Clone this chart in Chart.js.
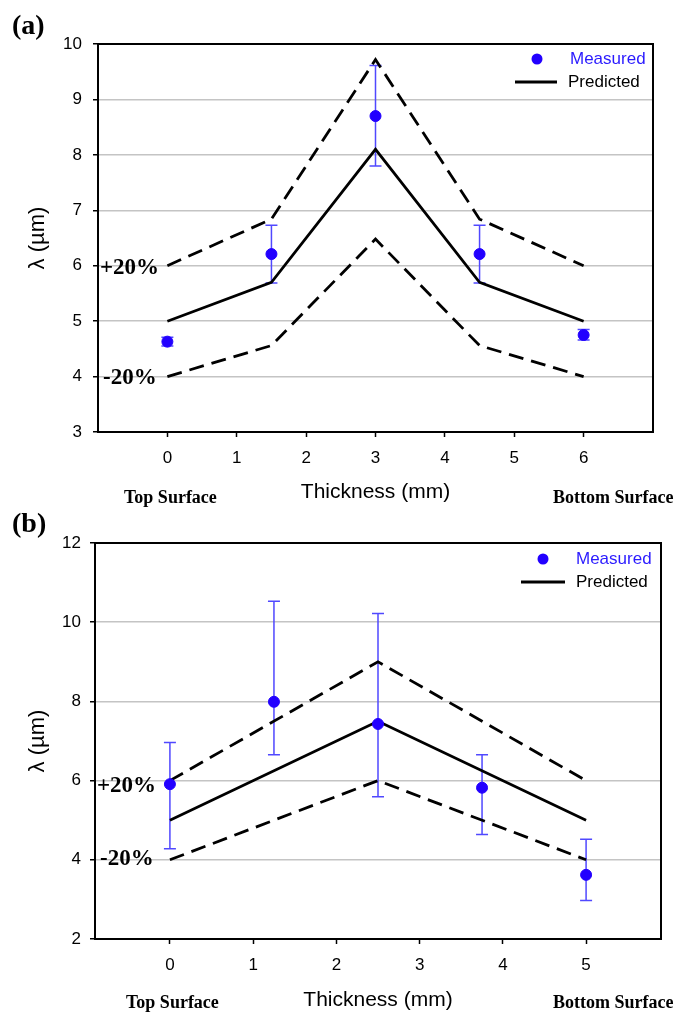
<!DOCTYPE html>
<html>
<head>
<meta charset="utf-8">
<script src="https://cdn.jsdelivr.net/npm/chart.js@4.4.1/dist/chart.umd.min.js"></script>
<style>
  html, body { margin: 0; padding: 0; background: #fff; }
  #page { position: relative; width: 674px; height: 1013px; overflow: hidden; }
  .box { position: absolute; left: 0; width: 674px; }
  .lbl { position: absolute; white-space: nowrap; transform: translateY(-50%); }
  .serif { font-family: "Liberation Serif", "Times New Roman", serif; font-weight: bold; color: #000; }
  .sans { font-family: "Liberation Sans", Arial, sans-serif; font-size: 17px; }
  .dot { position: absolute; width: 11px; height: 11px; border-radius: 50%; background: #2200ff; transform: translate(-50%, -50%); }
  .dash { position: absolute; height: 3px; background: #000; transform: translateY(-50%); }
</style>
</head>
<body>
<div id="page">
  <div class="box" style="top:0;height:505px"><canvas id="chartA"></canvas></div>
  <div class="box" style="top:505px;height:508px"><canvas id="chartB"></canvas></div>

  <!-- panel (a) text -->
  <div class="lbl serif" style="left:12px;top:25px;font-size:28px">(a)</div>
  <div class="lbl serif" style="left:100px;top:267px;font-size:23px">+20%</div>
  <div class="lbl serif" style="left:103px;top:377px;font-size:23px">-20%</div>
  <div class="lbl serif" style="left:124px;top:497px;font-size:18px">Top Surface</div>
  <div class="lbl serif" style="left:553px;top:497px;font-size:18px">Bottom Surface</div>
  <div class="dot" style="left:537px;top:59px"></div>
  <div class="lbl sans" style="left:570px;top:59px;color:#2a1aff">Measured</div>
  <div class="dash" style="left:515px;top:82px;width:42px"></div>
  <div class="lbl sans" style="left:568px;top:82px;color:#000">Predicted</div>

  <!-- panel (b) text -->
  <div class="lbl serif" style="left:12px;top:523px;font-size:28px">(b)</div>
  <div class="lbl serif" style="left:97px;top:785px;font-size:23px">+20%</div>
  <div class="lbl serif" style="left:100px;top:858px;font-size:23px">-20%</div>
  <div class="lbl serif" style="left:126px;top:1002px;font-size:18px">Top Surface</div>
  <div class="lbl serif" style="left:553px;top:1002px;font-size:18px">Bottom Surface</div>
  <div class="dot" style="left:543px;top:559px"></div>
  <div class="lbl sans" style="left:576px;top:559px;color:#2a1aff">Measured</div>
  <div class="dash" style="left:521px;top:582px;width:44px"></div>
  <div class="lbl sans" style="left:576px;top:582px;color:#000">Predicted</div>
</div>

<script>
// ---- panel (a) data ----
const xPredA = [0, 1.5, 3, 4.5, 6]
const predA = [5.0, 5.7, 8.1, 5.7, 5.0]
const upperA = [6.0, 6.84, 9.72, 6.84, 6.0]
const lowerA = [4.0, 4.56, 6.48, 4.56, 4.0]
const xMeasA = [0, 1.5, 3, 4.5, 6]
const measA = [4.63, 6.21, 8.70, 6.21, 4.75]
const errLowA = [4.55, 5.69, 7.80, 5.69, 4.66]
const errHighA = [4.71, 6.73, 9.61, 6.73, 4.85]
const xTicksA = [0, 1, 2, 3, 4, 5, 6]
const yTicksA = [3, 4, 5, 6, 7, 8, 9, 10]

// ---- panel (b) data ----
const xPredB = [0, 2.5, 5]
const predB = [5.0, 7.5, 5.0]
const upperB = [6.0, 9.0, 6.0]
const lowerB = [4.0, 6.0, 4.0]
const xMeasB = [0, 1.25, 2.5, 3.75, 5]
const measB = [5.91, 7.99, 7.43, 5.82, 3.62]
const errLowB = [4.28, 6.65, 5.59, 4.64, 2.97]
const errHighB = [6.96, 10.53, 10.22, 6.65, 4.52]
const xTicksB = [0, 1, 2, 3, 4, 5]
const yTicksB = [2, 4, 6, 8, 10, 12]

const BLUE = "#2200ff"
const BAR_BLUE = "#5048ff"
const SANS = "'Liberation Sans', Arial, sans-serif"

const pts = (xs, ys) => xs.map((x, i) => ({ x, y: ys[i] }))

// vertical error bars with caps, drawn under the datasets
const errorBars = {
  id: "errorBars",
  beforeDatasetsDraw(chart, args, opts) {
    const { ctx, scales: { x, y } } = chart
    ctx.save()
    ctx.strokeStyle = BAR_BLUE
    ctx.lineWidth = 1.5
    opts.xs.forEach((xv, i) => {
      const px = x.getPixelForValue(xv)
      const lo = y.getPixelForValue(opts.low[i])
      const hi = y.getPixelForValue(opts.high[i])
      ctx.beginPath()
      ctx.moveTo(px, lo); ctx.lineTo(px, hi)
      ctx.moveTo(px - 6, lo); ctx.lineTo(px + 6, lo)
      ctx.moveTo(px - 6, hi); ctx.lineTo(px + 6, hi)
      ctx.stroke()
    })
    ctx.restore()
  }
}

// box around the plot area
const frame = {
  id: "frame",
  afterDraw(chart) {
    const { ctx, chartArea: a } = chart
    ctx.save()
    ctx.strokeStyle = "#000"
    ctx.lineWidth = 2
    ctx.strokeRect(a.left, a.top, a.right - a.left, a.bottom - a.top)
    ctx.restore()
  }
}

function makeChart(id, d) {
  return new Chart(document.getElementById(id), {
    type: "scatter",
    data: {
      datasets: [
        {
          label: "Measured",
          data: pts(d.xMeas, d.meas),
          backgroundColor: BLUE,
          borderColor: BLUE,
          pointRadius: 5.5,
          showLine: false
        },
        {
          label: "Predicted",
          data: pts(d.xPred, d.pred),
          borderColor: "#000",
          borderWidth: 2.7,
          pointRadius: 0,
          showLine: true
        },
        {
          label: "+20%",
          data: pts(d.xPred, d.upper),
          borderColor: "#000",
          borderWidth: 2.8,
          borderDash: [15, 8],
          pointRadius: 0,
          showLine: true
        },
        {
          label: "-20%",
          data: pts(d.xPred, d.lower),
          borderColor: "#000",
          borderWidth: 2.8,
          borderDash: [15, 8],
          pointRadius: 0,
          showLine: true
        }
      ]
    },
    options: {
      responsive: true,
      maintainAspectRatio: false,
      animation: false,
      devicePixelRatio: 1,
      layout: { padding: d.padding },
      plugins: {
        legend: { display: false },
        tooltip: { enabled: false },
        errorBars: { xs: d.xMeas, low: d.errLow, high: d.errHigh }
      },
      scales: {
        x: {
          type: "linear",
          min: d.xMin,
          max: d.xMax,
          afterBuildTicks: (s) => { s.ticks = d.xTicks.map(v => ({ value: v })) },
          afterFit: (s) => { s.height = d.xHeight },
          border: { display: true, color: "#000", width: 2 },
          grid: { drawOnChartArea: false, drawTicks: true, tickColor: "#000", tickLength: 5, tickWidth: 1.5 },
          ticks: { color: "#000", font: { family: SANS, size: 17 }, padding: 11, maxRotation: 0 },
          title: {
            display: true,
            text: "Thickness (mm)",
            color: "#000",
            font: { family: SANS, size: 21 },
            padding: { top: 0, bottom: 0 }
          }
        },
        y: {
          type: "linear",
          min: d.yMin,
          max: d.yMax,
          afterBuildTicks: (s) => { s.ticks = d.yTicks.map(v => ({ value: v })) },
          afterFit: (s) => { s.width = d.yWidth },
          border: { display: true, color: "#000", width: 2 },
          grid: { color: "#c4c4c4", lineWidth: 1.5, drawTicks: true, tickColor: "#000", tickLength: 5, tickWidth: 1.5 },
          ticks: { color: "#000", font: { family: SANS, size: 17 }, padding: d.yPad },
          title: {
            display: true,
            text: "λ (µm)",
            color: "#000",
            font: { family: SANS, size: 22 },
            padding: { top: 25, bottom: 0 }
          }
        }
      }
    },
    plugins: [errorBars, frame]
  })
}

makeChart("chartA", {
  xMeas: xMeasA, meas: measA, xPred: xPredA, pred: predA, upper: upperA, lower: lowerA,
  errLow: errLowA, errHigh: errHighA, xTicks: xTicksA, yTicks: yTicksA,
  xMin: -1, xMax: 7, yMin: 3, yMax: 10,
  padding: { top: 44, right: 21, left: 0, bottom: 0 },
  xHeight: 73, yWidth: 98, yPad: 11
})

makeChart("chartB", {
  xMeas: xMeasB, meas: measB, xPred: xPredB, pred: predB, upper: upperB, lower: lowerB,
  errLow: errLowB, errHigh: errHighB, xTicks: xTicksB, yTicks: yTicksB,
  xMin: -0.9, xMax: 5.9, yMin: 2, yMax: 12,
  padding: { top: 38, right: 13, left: 0, bottom: 0 },
  xHeight: 74, yWidth: 95, yPad: 9
})
</script>
</body>
</html>
